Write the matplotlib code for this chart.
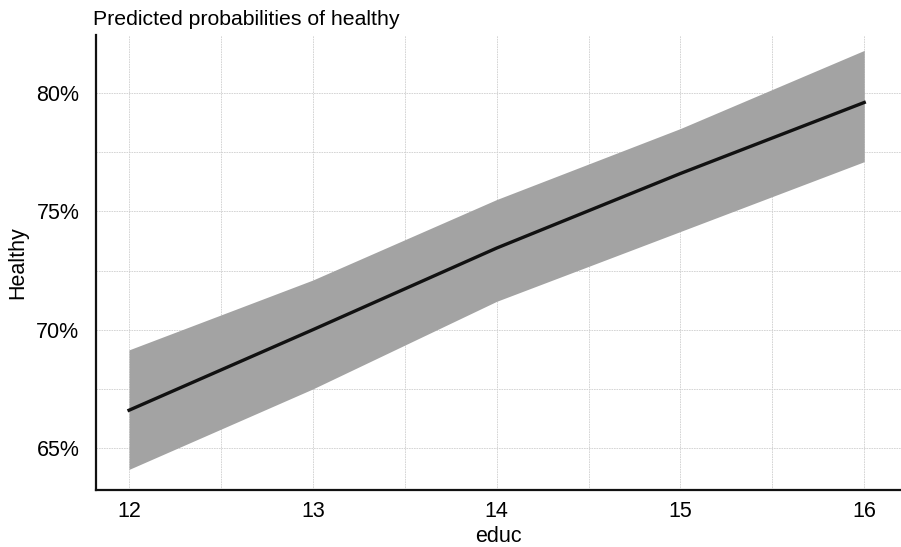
import matplotlib.pyplot as plt
from matplotlib.ticker import MultipleLocator, FuncFormatter

# Data
educ = [12, 13, 14, 15, 16]
predicted = [66.6, 70.0, 73.45, 76.6, 79.6]
ci_low = [64.1, 67.5, 71.2, 74.15, 77.1]
ci_high = [69.15, 72.1, 75.5, 78.5, 81.8]

plt.rcParams['font.family'] = ['Liberation Sans', 'DejaVu Sans']

fig = plt.figure(figsize=(9.01, 5.47), dpi=100)
ax = fig.add_axes([0.1065, 0.1042, 0.8935, 0.8318])

ax.fill_between(educ, ci_low, ci_high, color='#a3a3a3', linewidth=0, zorder=2)
ax.plot(educ, predicted, color='#111111', linewidth=2.4, zorder=3)

ax.set_xlim(11.82, 16.2)
ax.set_ylim(63.23, 82.45)
ax.xaxis.set_major_locator(MultipleLocator(1))
ax.xaxis.set_minor_locator(MultipleLocator(0.5))
ax.yaxis.set_major_locator(MultipleLocator(5))
ax.yaxis.set_minor_locator(MultipleLocator(2.5))
ax.yaxis.set_major_formatter(FuncFormatter(lambda v, p: f"{v:.0f}%"))

ax.grid(True, which='both', color='#cfcfcf', linewidth=0.6, linestyle=(0, (2, 1)), zorder=1)
ax.tick_params(which='both', length=0, labelsize=15.5)
ax.tick_params(axis='y', pad=12)
ax.tick_params(axis='x', pad=8)

for s in ['top', 'right']:
    ax.spines[s].set_visible(False)
for s in ['left', 'bottom']:
    ax.spines[s].set_linewidth(1.6)
    ax.spines[s].set_color('#111111')

ax.set_xlabel("educ", fontsize=15.5, labelpad=3)
ax.set_ylabel("Healthy", fontsize=15.5, labelpad=6)
fig.text(0.103, 0.965, "Predicted probabilities of healthy", fontsize=15.3, ha='left', va='center')

plt.savefig("out.png", dpi=100)
